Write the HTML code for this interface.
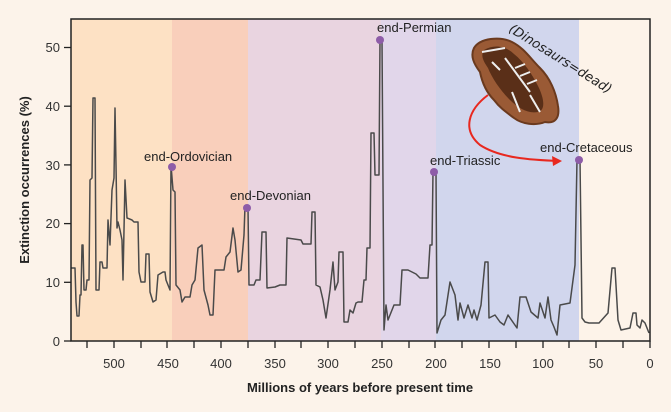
<!DOCTYPE html>
<html><head><meta charset="utf-8"><style>
html,body{margin:0;padding:0;background:#fcf3ea;}
svg{display:block;font-family:"Liberation Sans",sans-serif;}
</style></head><body>
<svg width="671" height="412" viewBox="0 0 671 412" xmlns="http://www.w3.org/2000/svg">
<rect width="671" height="412" fill="#fcf3ea"/>
<rect x="71" y="19" width="101" height="322" fill="#fde1c4"/>
<rect x="172" y="19" width="76" height="322" fill="#f9cfbb"/>
<rect x="248" y="19" width="133" height="322" fill="#e9d4e0"/>
<rect x="381" y="19" width="55" height="322" fill="#e1d6ea"/>
<rect x="436" y="19" width="143" height="322" fill="#d1d6ed"/>
<rect x="579" y="19" width="71" height="322" fill="#fdf3e9"/>
<polyline fill="none" stroke="#4a4a4a" stroke-width="1.5" stroke-linejoin="round" points="
71,268 75,268 76,302 77,316 79,316 80,295 81,295 82,245 83,245 84,290 86,290 87,280 89,280 90,180 92,178 93,98 95,98 96,290 99,290 100,262 102,262 103,268 107,268 108,220 110,245 112,190 114,178 115,108 116,165 117,228 118,222 120,230 122,240 123,280 125,180 127,218 132,220 134,222 138,222 139,272 141,282 145,282 146,254 149,254 150,292 153,302 156,300 158,275 163,272 165,272 166,280 170,290 171,165 173,190 175,192 176,285 180,290 182,302 185,297 190,297 192,285 195,280 198,248 202,245 204,290 208,305 210,315 213,315 215,270 224,270 226,257 230,252 233,228 235,240 238,272 241,270 244,235 245,206 248,208 249,285 254,285 256,280 260,280 262,232 266,232 267,288 275,287 280,285 286,285 287,238 301,240 303,244 311,244 312,212 315,212 316,285 320,287 323,300 326,318 330,290 333,262 335,290 338,282 339,252 343,252 344,322 348,322 350,310 353,313 356,303 358,302 362,302 364,280 366,280 367,248 370,248 371,133 374,133 375,175 379,175 380,40 382,40 384,330 386,305 388,320 394,305 398,305 400,305 402,270 408,270 416,274 420,278 428,278 430,245 432,245 433,172 436,172 437,333 441,320 445,315 450,282 455,295 458,320 460,303 464,318 468,305 472,318 474,310 477,320 481,305 485,262 488,262 489,318 495,315 500,322 504,325 508,315 517,328 520,297 526,297 531,312 538,318 540,303 545,318 548,297 551,320 554,327 557,335 560,305 570,303 575,265 577,160 580,160 582,318 585,322 589,323 599,323 608,313 612,268 615,268 618,320 621,330 630,328 633,313 636,313 637,325 640,328 642,320 645,323 649,333"/>
<rect x="71" y="19" width="579" height="322" fill="none" stroke="#222" stroke-width="1.5"/>
<g stroke="#222" stroke-width="1.3">
<line x1="64" y1="341" x2="71" y2="341"/><line x1="64" y1="282.3" x2="71" y2="282.3"/><line x1="64" y1="223.6" x2="71" y2="223.6"/><line x1="64" y1="164.9" x2="71" y2="164.9"/><line x1="64" y1="106.2" x2="71" y2="106.2"/><line x1="64" y1="47.5" x2="71" y2="47.5"/>
<line x1="87" y1="341" x2="87" y2="348"/><line x1="114" y1="341" x2="114" y2="348"/><line x1="141" y1="341" x2="141" y2="348"/><line x1="167" y1="341" x2="167" y2="348"/><line x1="194" y1="341" x2="194" y2="348"/><line x1="221" y1="341" x2="221" y2="348"/><line x1="248" y1="341" x2="248" y2="348"/><line x1="275" y1="341" x2="275" y2="348"/><line x1="301" y1="341" x2="301" y2="348"/><line x1="328" y1="341" x2="328" y2="348"/><line x1="355" y1="341" x2="355" y2="348"/><line x1="382" y1="341" x2="382" y2="348"/><line x1="409" y1="341" x2="409" y2="348"/><line x1="435" y1="341" x2="435" y2="348"/><line x1="462" y1="341" x2="462" y2="348"/><line x1="489" y1="341" x2="489" y2="348"/><line x1="516" y1="341" x2="516" y2="348"/><line x1="543" y1="341" x2="543" y2="348"/><line x1="569" y1="341" x2="569" y2="348"/><line x1="596" y1="341" x2="596" y2="348"/><line x1="623" y1="341" x2="623" y2="348"/><line x1="650" y1="341" x2="650" y2="348"/>
</g>
<g font-size="13" fill="#333" text-anchor="end">
<text x="60" y="346">0</text><text x="60" y="287">10</text><text x="60" y="228">20</text><text x="60" y="170">30</text><text x="60" y="111">40</text><text x="60" y="52">50</text>
</g>
<g font-size="13" fill="#333" text-anchor="middle">
<text x="114" y="368">500</text><text x="168" y="368">450</text><text x="221" y="368">400</text><text x="275" y="368">350</text><text x="328" y="368">300</text><text x="382" y="368">250</text><text x="436" y="368">200</text><text x="490" y="368">150</text><text x="543" y="368">100</text><text x="596" y="368">50</text><text x="650" y="368">0</text>
</g>
<text x="360" y="392" font-size="13" font-weight="bold" fill="#222" text-anchor="middle">Millions of years before present time</text>
<text transform="translate(29,180) rotate(-90)" font-size="13" font-weight="bold" fill="#222" text-anchor="middle">Extinction occurrences (%)</text>
<g fill="#8e5ca8">
<circle cx="172" cy="167" r="4"/><circle cx="247" cy="208" r="4"/><circle cx="380" cy="40" r="4"/><circle cx="434" cy="172" r="4"/><circle cx="579" cy="160" r="4"/>
</g>
<g font-size="13" fill="#222">
<text x="144" y="161">end-Ordovician</text>
<text x="230" y="200">end-Devonian</text>
<text x="377" y="32">end-Permian</text>
<text x="430" y="165">end-Triassic</text>
<text x="540" y="152">end-Cretaceous</text>
</g>
<path d="M474,48 C480,38 500,36 512,42 C524,48 530,58 540,68 C550,78 556,92 558,106 C560,118 555,124 545,122 C535,126 522,124 514,118 C506,112 500,108 494,100 C486,92 482,82 480,72 C474,64 470,56 474,48 Z" fill="#9a5a35" stroke="#6b3a1e" stroke-width="2"/>
<path d="M484,50 C494,44 506,46 514,54 C524,62 532,74 538,86 C544,98 546,110 538,112 C528,114 518,108 510,100 C500,90 492,78 488,68 C484,62 480,56 484,50 Z" fill="#5a2f18"/>
<g stroke="#eee" stroke-width="2" fill="none"><path d="M482,52 L505,48 M505,58 L530,92 M515,68 L525,64 M520,76 L530,72 M527,84 L537,80 M530,95 L540,112 M512,92 L520,112 M492,62 L500,70"/></g>
<path d="M488,95 C468,110 462,130 480,145 C500,158 530,160 560,161" fill="none" stroke="#e8281f" stroke-width="2"/>
<path d="M562,161 L552,156 L553,166 Z" fill="#e8281f"/>
<text transform="translate(508,31) rotate(32)" font-size="13" font-style="italic" fill="#222" font-family="'DejaVu Sans',sans-serif">(Dinosaurs=dead)</text>
</svg>
</body></html>
